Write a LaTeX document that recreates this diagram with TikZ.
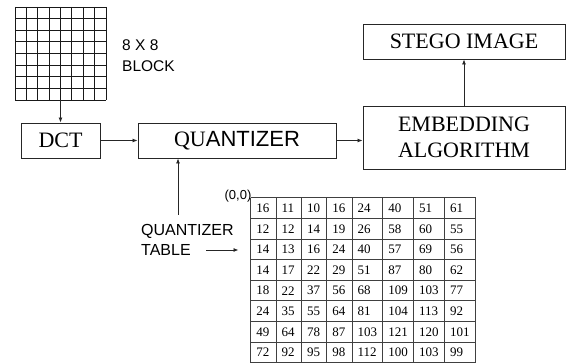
\documentclass[tikz,border=0pt]{standalone}
\usepackage{fontspec}
\setmainfont{Liberation Serif}
\setsansfont{Liberation Sans}
\usetikzlibrary{arrows.meta}

\begin{document}
\begin{tikzpicture}[
    x=1pt, y=-1pt,
    % Styles
    procbox/.style={rectangle, draw=black!85, line width=0.9pt, inner sep=0pt, align=center, font=\rmfamily\fontsize{22}{26}\selectfont},
    sidelabel/.style={anchor=west, align=left, inner sep=0pt, font=\sffamily\fontsize{16}{20}\selectfont},
    cellnum/.style={anchor=west, inner sep=0pt, font=\rmfamily\fontsize{13}{13}\selectfont},
    gridline/.style={line width=0.8pt, black!90},
    tableline/.style={line width=1pt, black!75},
    arrow/.style={-{Latex[length=5pt, width=4pt]}, line width=0.8pt, black!85}
]
\useasboundingbox (0,0) rectangle (566,363);

% ==================== 8x8 BLOCK ====================
\node[minimum width=91pt, minimum height=93pt, inner sep=0pt] (block) at (60.5,53.5) {};
\foreach \i in {0,...,8} {
    \draw[gridline] (15+\i*11.375,7) -- (15+\i*11.375,100);
    \draw[gridline] (15,7+\i*11.625) -- (106,7+\i*11.625);
}
\node[sidelabel, font=\sffamily\fontsize{15.5}{21.5}\selectfont] (blocklabel) at (122,55.5) {8 X 8\\BLOCK};

% ==================== PROCESS BOXES ====================
\node[procbox, minimum width=79pt, minimum height=35pt] (dct) at (60.5,140.5) {DCT};
\node[procbox, minimum width=198pt, minimum height=35pt] (quant) at (237,140.5) {QU{\sffamily ANTIZER}};
\node[procbox, minimum width=202pt, minimum height=63pt] (embed) at (464,137.5) {EMBEDDING\\ALGORITHM};
\node[procbox, minimum width=202pt, minimum height=35pt] (stego) at (464,41.5) {STEGO IMAGE};

\draw[arrow] (block.south) -- (dct.north);
\draw[arrow] (dct.east) -- (quant.west);
\draw[arrow] (quant.east) -- (quant.east -| embed.west);
\draw[arrow] (embed.north) -- (stego.south);

% ==================== QUANTIZER TABLE ====================
\def\colx{{250.7,276,301.3,326.7,352,382.7,413.3,444.3,475.7}}
\node[minimum width=225pt, minimum height=165pt, inner sep=0pt] (qtable) at (363.2,280.5) {};
\foreach \c in {0,...,8} {
    \pgfmathsetmacro\xx{\colx[\c]}
    \draw[tableline] (\xx,198) -- (\xx,363);
}
\foreach \r in {0,...,8} {
    \draw[tableline] (250.7,198+\r*20.6) -- (475.7,198+\r*20.6);
}
\foreach \row [count=\r from 0] in {
    {16,11,10,16,24,40,51,61},
    {12,12,14,19,26,58,60,55},
    {14,13,16,24,40,57,69,56},
    {14,17,22,29,51,87,80,62},
    {18,22,37,56,68,109,103,77},
    {24,35,55,64,81,104,113,92},
    {49,64,78,87,103,121,120,101},
    {72,92,95,98,112,100,103,99}} {
    \foreach \v [count=\c from 0] in \row {
        \pgfmathsetmacro\xx{\colx[\c]+5.5}
        \node[cellnum] (t\r-\c) at (\xx,208.3+\r*20.6) {\v};
    }
}
\node[font=\sffamily\fontsize{13}{13}\selectfont, inner sep=0pt] (origin) at (238,196) {(0,0)};

\node[sidelabel] (tablelabel) at (141,239.5) {QUANTIZER\\TABLE};
\coordinate (qin) at (178,215);
\draw[arrow] (qin) -- (qin |- quant.south);
\coordinate (tabin) at (206,250);
\draw[arrow, shorten >=12pt] (tabin) -- (tabin -| qtable.west);

\end{tikzpicture}
\end{document}
